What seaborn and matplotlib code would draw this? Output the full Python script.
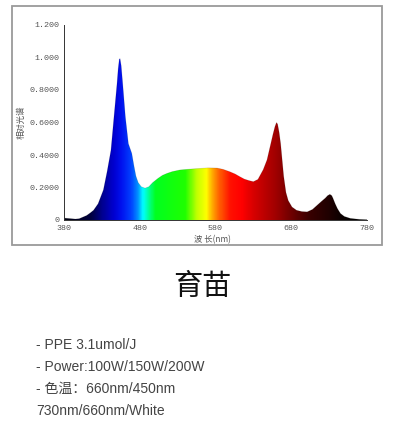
import numpy as np
import matplotlib
matplotlib.use("Agg")
import matplotlib.pyplot as plt
from matplotlib.colors import LinearSegmentedColormap
from matplotlib.patches import Rectangle
import seaborn as sns

# spectrum (wavelength nm, relative value)
wavelength = [380, 385, 390, 395, 400, 405, 410, 415, 419, 425, 432, 437, 442, 446,
              450, 451.5, 453, 454, 455.5, 457.5, 461, 465, 469.5, 472.5, 475, 478,
              482, 487, 492, 497, 504, 510, 516, 523, 533, 545, 560, 570, 582, 590,
              599, 606, 612, 618, 624, 630, 636, 643, 648, 652, 656, 658.5, 660.5,
              662, 664, 666, 670, 673, 676, 681, 687, 694, 701, 708, 714, 720, 725,
              728, 731, 733.5, 735, 738, 741, 745, 750, 758, 770, 780]
relative = [0.012, 0.010, 0.008, 0.006, 0.008, 0.018, 0.028, 0.045, 0.06, 0.10, 0.185,
            0.30, 0.43, 0.636, 0.84, 0.93, 0.99, 0.993, 0.95, 0.84, 0.636, 0.47, 0.41,
            0.33, 0.27, 0.23, 0.205, 0.196, 0.205, 0.23, 0.256, 0.275, 0.287, 0.298,
            0.308, 0.313, 0.318, 0.321, 0.32, 0.312, 0.297, 0.283, 0.267, 0.252,
            0.243, 0.236, 0.25, 0.31, 0.37, 0.45, 0.53, 0.575, 0.60, 0.59, 0.54, 0.47,
            0.27, 0.17, 0.12, 0.08, 0.06, 0.052, 0.05, 0.065, 0.09, 0.115, 0.135,
            0.15, 0.158, 0.15, 0.135, 0.10, 0.07, 0.04, 0.022, 0.01, 0.004, 0.002]

yticks = [0, 0.2, 0.4, 0.6, 0.8, 1.0, 1.2]
ytick_labels = ["0", "0.2000", "0.4000", "0.6000", "0.8000", "1.000", "1.200"]
xticks = [380, 480, 580, 680, 780]

title = "育苗"
spec_lines = ["- PPE 3.1umol/J", "- Power:100W/150W/200W",
              "- 色温：660nm/450nm", "730nm/660nm/White"]

# colour stops of the spectral fill
stop_nm = [380, 415, 430, 445, 455, 468, 477, 484, 492, 500, 540, 555, 568, 575,
           585, 600, 615, 630, 660, 680, 705, 730, 750, 780]
stop_col = ["#000010", "#000040", "#000090", "#0000d0", "#0010ee", "#0040ff",
            "#0090ff", "#00ffff", "#00ff90", "#00ff20", "#20ff00", "#c0ff00",
            "#ffff00", "#ffb000", "#ff6000", "#ff1000", "#ff0000", "#d80000",
            "#a00000", "#700000", "#380000", "#200000", "#080000", "#000000"]

sns.set_style("white")
plt.rcParams["font.family"] = ["Liberation Mono", "Noto Sans CJK SC", "DejaVu Sans"]

fig = plt.figure(figsize=(4.05, 4.28), dpi=100)
fig.patch.set_facecolor("white")

# frame around the chart image
fig.patches.append(Rectangle((12 / 405, 1 - 245 / 428), 370 / 405, 239 / 428,
                             transform=fig.transFigure, fill=False,
                             edgecolor="#9a9a9a", linewidth=1.3))

ax = fig.add_axes([64 / 405, 208 / 428, 303 / 405, 195 / 428])

cmap = LinearSegmentedColormap.from_list(
    "spec", [((n - 380) / 400, c) for n, c in zip(stop_nm, stop_col)])
grad = np.linspace(0, 1, 800).reshape(1, -1)
img = ax.imshow(grad, extent=[380, 780, 0, 1.2], aspect="auto", cmap=cmap,
                origin="lower", interpolation="bilinear")
poly, = ax.fill(list(wavelength) + [780, 380], list(relative) + [0, 0],
                facecolor="none", edgecolor="none")
img.set_clip_path(poly)
sns.lineplot(x=wavelength, y=relative, ax=ax, color="black", alpha=0.15,
             linewidth=0.5)

ax.set_xlim(380, 780)
ax.set_ylim(0, 1.2)
ax.set_xticks(xticks)
ax.set_xticklabels([str(t) for t in xticks])
ax.set_yticks(yticks)
ax.set_yticklabels(ytick_labels)
ax.tick_params(labelsize=6, colors="#555555", length=2.5, width=0.6, pad=1)
for s in ["top", "right"]:
    ax.spines[s].set_visible(False)
for s in ["left", "bottom"]:
    ax.spines[s].set_color("#333333")
    ax.spines[s].set_linewidth(0.7)

ax.set_ylabel("相对光谱", family=["Noto Sans CJK SC"], fontsize=6, color="#555555")
ax.yaxis.set_label_coords(-0.127, 0.5)
ax.set_xlabel("波 长(nm)", family=["Noto Sans CJK SC"], fontsize=6, color="#555555")
ax.xaxis.set_label_coords(0.49, -0.08)

fig.text(202 / 405, 1 - 287 / 428, title, ha="center", va="center", fontsize=21,
         color="#111111", family=["Noto Sans CJK SC"])
for i, line in enumerate(spec_lines):
    fig.text(36 / 405, 1 - (345 + i * 22) / 428, line, ha="left", va="center",
             fontsize=10, color="#444444", family=["Liberation Sans", "Noto Sans CJK SC"])

fig.savefig("out.png", dpi=100, facecolor="white")
